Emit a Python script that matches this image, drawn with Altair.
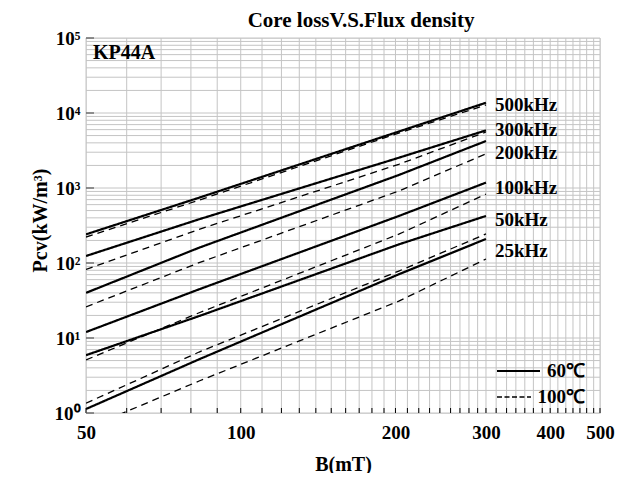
import altair as alt
import pandas as pd

# ---------------- data ----------------
b_points = [50, 83, 203, 300]          # B (mT) where values were read
freqs = ["500kHz", "300kHz", "200kHz", "100kHz", "50kHz", "25kHz"]

# 60 degC (solid) Pcv, kW/m3
p60_500k = [241, 743, 5660, 13700]
p60_300k = [124, 383, 2530, 5870]
p60_200k = [40, 160, 1490, 4230]
p60_100k = [12, 44.6, 423, 1180]
p60_50k = [5.9, 19.6, 177, 424]
p60_25k = [1.13, 5.2, 70.7, 209]

# 100 degC (dashed) Pcv, kW/m3
p100_500k = [222, 690, 5400, 12800]
p100_300k = [82, 281, 2070, 5580]
p100_200k = [26, 101, 912, 2860]
p100_100k = [5.1, 21.7, 242, 830]
p100_50k = [1.35, 6.5, 78, 244]
p100_25k = [0.62, 2.67, 31, 113]

x_major = [50, 100, 200, 300, 400, 500]
y_major = [1, 10, 100, 1000, 10000, 100000]
x_grid = [50, 60, 70, 80, 90, 100, 110, 120, 130, 140, 150, 160, 170, 180, 190,
          200, 211, 222, 233, 244, 256, 267, 278, 289, 300, 314, 329, 343, 357,
          371, 386, 400, 414, 429, 443, 457, 471, 486, 500]
y_grid = [m * 10 ** e for e in range(0, 5) for m in range(1, 10)] + [100000]

temps = ["60℃", "100℃"]
title_text = "Core lossV.S.Flux density"
# ---------------------------------------------------------------

s60 = [p60_500k, p60_300k, p60_200k, p60_100k, p60_50k, p60_25k]
s100 = [p100_500k, p100_300k, p100_200k, p100_100k, p100_50k, p100_25k]

rows = []
for f, a, b in zip(freqs, s60, s100):
    for bb, v in zip(b_points, a):
        rows.append({"B": bb, "Pcv": v, "freq": f, "temp": temps[0]})
    for bb, v in zip(b_points, b):
        rows.append({"B": bb, "Pcv": v, "freq": f, "temp": temps[1]})
df = pd.DataFrame(rows)

FONT = "Liberation Serif"
W, H = 514, 375

xscale = alt.Scale(type="log", domain=[50, 500], nice=False)
yscale = alt.Scale(type="log", domain=[1, 100000], nice=False)

x_axis = alt.Axis(values=x_major, grid=False, ticks=False, domain=False,
                  labelFont=FONT, labelFontSize=19, labelFontWeight="bold",
                  labelColor="black", labelPadding=10, labelFlush=False,
                  labelOverlap=False, title="B(mT)", titleFont=FONT,
                  titleFontSize=20, titleFontWeight="bold", titleColor="black",
                  titlePadding=12, format="d")
y_axis = alt.Axis(values=y_major, grid=False, ticks=False, domain=False,
                  labelFont=FONT, labelFontSize=19, labelFontWeight="bold",
                  labelColor="black", labelPadding=6, labelFlush=False,
                  labelOverlap=False,
                  labelExpr="'10' + ['⁰','¹','²','³','⁴','⁵'][round(log(datum.value)/LN10)]",
                  title="Pcv(kW/m³)", titleFont=FONT, titleFontSize=20,
                  titleFontWeight="bold", titleColor="black",
                  titleX=-46, titleY=182, titleAngle=-90,
                  titleAlign="center", titleBaseline="middle")


def X(field):
    return alt.X(field, type="quantitative", scale=xscale, axis=x_axis, title="B(mT)")


def Y(field):
    return alt.Y(field, type="quantitative", scale=yscale, axis=y_axis, title="Pcv(kW/m³)")


vgrid = alt.Chart(pd.DataFrame({"B": x_grid})).mark_rule(
    color="#c4c4c4", strokeWidth=1).encode(x=X("B"))
hgrid = alt.Chart(pd.DataFrame({"Pcv": y_grid})).mark_rule(
    color="#c4c4c4", strokeWidth=1).encode(y=Y("Pcv"))

xticks = alt.Chart(pd.DataFrame({"B": x_grid})).mark_rule(
    color="black", strokeWidth=1).encode(
    x=X("B"), y=alt.value(H), y2=alt.value(H - 5))
yticks = alt.Chart(pd.DataFrame({"Pcv": y_major})).mark_rule(
    color="#555555", strokeWidth=1.2).encode(
    y=Y("Pcv"), x=alt.value(0), x2=alt.value(8))

lines = alt.Chart(df).mark_line(color="black", clip=True).encode(
    x=X("B"),
    y=Y("Pcv"),
    detail="freq:N",
    strokeDash=alt.StrokeDash("temp:N", scale=alt.Scale(
        domain=temps, range=[[1, 0], [7, 5]]), legend=None),
    strokeWidth=alt.StrokeWidth("temp:N", scale=alt.Scale(
        domain=temps, range=[2.2, 1.3]), legend=None),
)

label_dy = [2, 0, 12, 5, 4, 12]
label_layers = []
for f, a, dy in zip(freqs, s60, label_dy):
    d = pd.DataFrame({"B": [b_points[-1]], "Pcv": [a[-1]], "txt": [f]})
    label_layers.append(
        alt.Chart(d).mark_text(font=FONT, fontSize=19, fontWeight="bold",
                               align="left", baseline="middle", dx=9, dy=dy,
                               color="black").encode(
            x=X("B"), y=Y("Pcv"), text="txt:N"))

kp = alt.Chart(pd.DataFrame({"t": ["KP44A"]})).mark_text(
    font=FONT, fontSize=20, fontWeight="bold", align="left",
    baseline="middle", color="black").encode(
    x=alt.value(7), y=alt.value(15), text="t:N")

ttl = alt.Chart(pd.DataFrame({"t": [title_text]})).mark_text(
    font=FONT, fontSize=21, fontWeight="bold", align="center",
    baseline="middle", color="black").encode(
    x=alt.value(275), y=alt.value(-17), text="t:N")

leg_solid = alt.Chart(pd.DataFrame({"t": [temps[0]]})).mark_rule(
    color="black", strokeWidth=1.8).encode(
    x=alt.value(411), x2=alt.value(454), y=alt.value(333))
leg_dash = alt.Chart(pd.DataFrame({"t": [temps[1]]})).mark_rule(
    color="black", strokeWidth=1.4, strokeDash=[5, 2.5]).encode(
    x=alt.value(411), x2=alt.value(445), y=alt.value(359))
leg_t1 = alt.Chart(pd.DataFrame({"t": [temps[0]]})).mark_text(
    font=FONT, fontSize=19, fontWeight="bold", align="right",
    baseline="middle", color="black").encode(
    x=alt.value(499), y=alt.value(333), text="t:N")
leg_t2 = alt.Chart(pd.DataFrame({"t": [temps[1]]})).mark_text(
    font=FONT, fontSize=19, fontWeight="bold", align="right",
    baseline="middle", color="black").encode(
    x=alt.value(499), y=alt.value(359), text="t:N")

chart = alt.layer(
    vgrid, hgrid, xticks, yticks, lines, *label_layers, kp, ttl,
    leg_solid, leg_dash, leg_t1, leg_t2
).properties(
    width=W, height=H,
    padding={"left": 78, "top": 30, "right": 18, "bottom": 60},
    autosize=alt.AutoSizeParams(type="none"),
).configure_view(stroke="black", strokeWidth=1.5).configure(background="white")

chart.save("out.html", embed_options={"renderer": "svg", "actions": False})
